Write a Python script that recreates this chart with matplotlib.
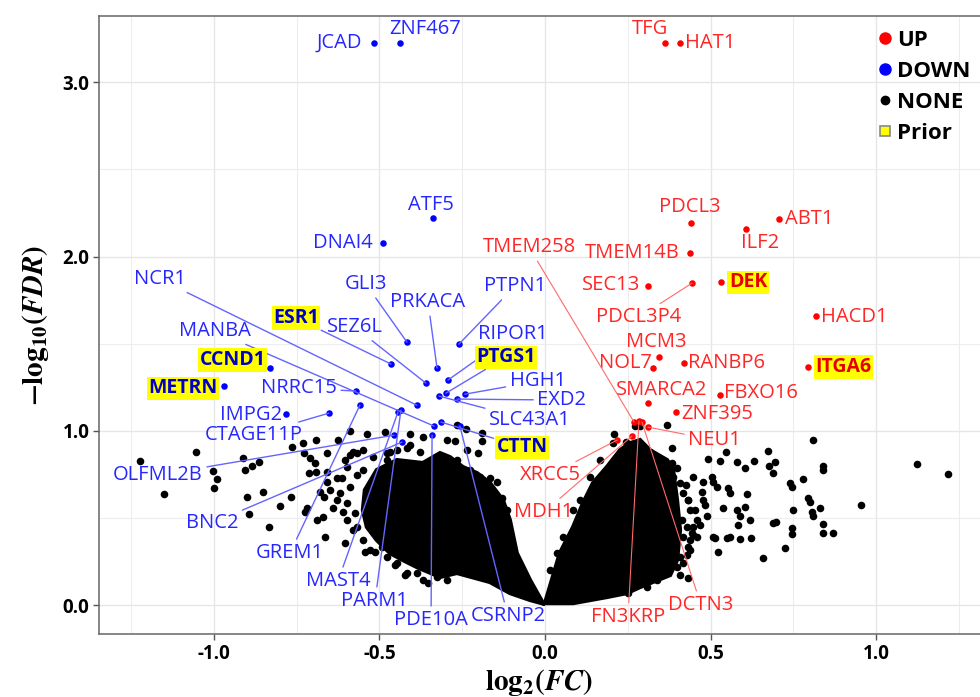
import matplotlib
matplotlib.use('Agg')
import matplotlib.pyplot as plt
from matplotlib import font_manager as fm
from matplotlib.lines import Line2D

# ---- data ----
# outline of the dense NONE cloud (two lobes of the volcano)
left_lobe_x = [-0.006, -0.045, -0.085, -0.106, -0.127, -0.166, -0.205, -0.248, -0.287, -0.317,
               -0.369, -0.447, -0.508, -0.544, -0.550, -0.538, -0.508, -0.468, -0.429, -0.387,
               -0.317, -0.266, -0.166, -0.106, -0.045, 0.0]
left_lobe_y = [0.011, 0.143, 0.298, 0.488, 0.602, 0.700, 0.757, 0.792, 0.849, 0.872,
               0.815, 0.832, 0.775, 0.660, 0.545, 0.448, 0.373, 0.298, 0.258, 0.218,
               0.161, 0.184, 0.132, 0.069, 0.029, 0.006]
right_lobe_x = [0.0, 0.045, 0.085, 0.115, 0.145, 0.187, 0.227, 0.257, 0.287, 0.317,
                0.369, 0.387, 0.399, 0.408, 0.399, 0.378, 0.287, 0.248, 0.187, 0.085]
right_lobe_y = [0.011, 0.298, 0.448, 0.585, 0.700, 0.792, 0.889, 0.929, 0.947, 0.889,
                0.832, 0.775, 0.602, 0.430, 0.258, 0.172, 0.103, 0.069, 0.046, 0.011]

# scattered NONE genes outside / on the rim of the dense cloud
none_x = [-1.224, -1.151, -1.054, -1.003, -0.991, -1.000, -0.912, -0.906, -0.885, -0.864,
          -0.900, -0.852, -0.894, -0.834, -0.801, -0.767, -0.764, -0.731, -0.728, -0.692,
          -0.659, -0.625, -0.589, -0.538, -0.483, -0.408, -0.369, -0.296, -0.272, -0.266,
          -0.239, -0.190, -0.190, -0.236, -0.202, -0.408, -0.468, -0.477, -0.710, -0.695,
          -0.713, -0.692, -0.659, -0.719, -0.725, -0.689, -0.671, -0.665, -0.640, -0.610,
          -0.604, -0.598, -0.580, -0.544, -0.492, -0.668, -0.628, -0.613, -0.604, -0.589,
          -0.598, -0.568, -0.550, -0.514, -0.387, -0.453, -0.423, -0.353, -0.347, -0.514,
          -0.580, -0.550, -0.520, -0.477, -0.568, -0.589, -0.619, -0.598, -0.628, -0.650,
          -0.680, -0.659, -0.574, -0.568, -0.550, -0.529, -0.477, -0.447, -0.417, -0.369,
          -0.326, -0.296, -0.447, -0.417, -0.378, -0.508, -0.529, -0.266, -0.227, -0.196,
          -0.166, -0.145, -0.130, -0.115,
          0.810, 1.124, 1.218, 0.955, 0.840, 0.840, 0.674, 0.695, 0.677, 0.689,
          0.631, 0.604, 0.580, 0.547, 0.529, 0.492, 0.779, 0.740, 0.746, 0.610,
          0.553, 0.559, 0.505, 0.508, 0.520, 0.477, 0.474, 0.447, 0.477, 0.483,
          0.538, 0.580, 0.589, 0.604, 0.619, 0.583, 0.689, 0.698, 0.749, 0.795,
          0.801, 0.831, 0.807, 0.810, 0.840, 0.840, 0.870, 0.746, 0.746, 0.725,
          0.659, 0.622, 0.589, 0.559, 0.550, 0.514, 0.508, 0.523, 0.459, 0.468,
          0.447, 0.438, 0.489, 0.432, 0.408, 0.369, 0.384, 0.208, 0.251, 0.429,
          0.438, 0.417, 0.432, 0.426, 0.453, 0.272, 0.287, 0.245,
          0.317, 0.326, 0.353, 0.369, 0.384, 0.387, 0.399, 0.408, 0.417, 0.432,
          0.438, 0.414, 0.429, 0.417, 0.432, 0.408, 0.399, 0.369, 0.338, 0.308,
          0.447, 0.459, 0.444, 0.205, 0.236, 0.166, 0.136, 0.106, 0.085, 0.054,
          0.036, 0.015]
none_y = [0.826, 0.637, 0.878, 0.769, 0.723, 0.671, 0.843, 0.775, 0.797, 0.820,
          0.620, 0.648, 0.522, 0.448, 0.568, 0.620, 0.906, 0.929, 0.872, 0.947,
          0.872, 0.947, 0.998, 0.981, 0.993, 0.981, 0.964, 0.947, 0.941, 1.033,
          1.010, 0.987, 0.941, 0.889, 0.872, 0.918, 0.878, 0.832, 0.843, 0.815,
          0.757, 0.763, 0.763, 0.557, 0.534, 0.488, 0.505, 0.390, 0.557, 0.534,
          0.356, 0.488, 0.430, 0.304, 0.333, 0.620, 0.729, 0.729, 0.832, 0.861,
          0.792, 0.872, 0.775, 0.660, 0.184, 0.229, 0.172, 0.126, 0.247, 0.304,
          0.878, 0.889, 0.849, 0.872, 0.746, 0.677, 0.643, 0.585, 0.602, 0.660,
          0.648, 0.706, 0.528, 0.448, 0.373, 0.316, 0.275, 0.241, 0.184, 0.143,
          0.161, 0.143, 0.889, 0.901, 0.878, 0.734, 0.620, 0.832, 0.775, 0.734,
          0.729, 0.706, 0.614, 0.545,
          0.947, 0.809, 0.752, 0.574, 0.797, 0.775, 0.884, 0.820, 0.797, 0.757,
          0.826, 0.786, 0.820, 0.878, 0.826, 0.838, 0.723, 0.700, 0.677, 0.637,
          0.671, 0.643, 0.734, 0.706, 0.677, 0.706, 0.648, 0.734, 0.602, 0.574,
          0.557, 0.545, 0.511, 0.562, 0.488, 0.459, 0.470, 0.476, 0.545, 0.614,
          0.591, 0.557, 0.534, 0.511, 0.465, 0.413, 0.413, 0.442, 0.407, 0.327,
          0.270, 0.384, 0.379, 0.390, 0.384, 0.384, 0.390, 0.304, 0.488, 0.459,
          0.402, 0.373, 0.511, 0.155, 0.172, 1.033, 0.901, 0.981, 0.069, 0.287,
          0.316, 0.241, 0.602, 0.688, 0.545, 1.030, 1.030, 0.935,
          0.878, 0.832, 0.786, 0.763, 0.815, 0.734, 0.786, 0.700, 0.643, 0.602,
          0.545, 0.488, 0.448, 0.390, 0.333, 0.275, 0.218, 0.184, 0.143, 0.103,
          0.448, 0.390, 0.413, 0.929, 0.889, 0.832, 0.734, 0.602, 0.545, 0.390,
          0.298, 0.201]

down_genes = ['JCAD', 'ZNF467', 'ATF5', 'DNAI4', 'GLI3', 'PTPN1', 'ESR1', 'PRKACA', 'SEZ6L',
              'RIPOR1', 'PTGS1', 'HGH1', 'EXD2', 'SLC43A1', 'NCR1', 'CTTN', 'MANBA', 'CCND1',
              'METRN', 'NRRC15', 'IMPG2', 'CTAGE11P', 'GREM1', 'MAST4', 'PARM1', 'OLFML2B',
              'BNC2', 'PDE10A', 'CSRNP2']
down_x = [-0.517, -0.438, -0.338, -0.489, -0.417, -0.260, -0.465, -0.326, -0.360,
          -0.293, -0.299, -0.242, -0.266, -0.320, -0.387, -0.314, -0.335, -0.831,
          -0.970, -0.571, -0.782, -0.653, -0.559, -0.444, -0.435, -0.456,
          -0.432, -0.341, -0.257]
down_y = [3.224, 3.224, 2.220, 2.077, 1.509, 1.497, 1.383, 1.360, 1.274,
          1.291, 1.216, 1.210, 1.182, 1.199, 1.147, 1.050, 1.027, 1.360,
          1.256, 1.228, 1.096, 1.101, 1.147, 1.107, 1.119, 0.975,
          0.935, 0.975, 1.027]

up_genes = ['TFG', 'HAT1', 'PDCL3', 'ABT1', 'ILF2', 'TMEM14B', 'SEC13', 'DEK', 'PDCL3P4',
            'HACD1', 'MCM3', 'NOL7', 'RANBP6', 'ITGA6', 'SMARCA2', 'FBXO16', 'ZNF395',
            'NEU1', 'TMEM258', 'FN3KRP', 'DCTN3', 'XRCC5', 'MDH1']
up_x = [0.363, 0.408, 0.441, 0.707, 0.607, 0.438, 0.311, 0.532, 0.444,
        0.819, 0.344, 0.326, 0.420, 0.795, 0.311, 0.529, 0.396,
        0.311, 0.269, 0.284, 0.293, 0.218, 0.263]
up_y = [3.224, 3.224, 2.192, 2.215, 2.157, 2.019, 1.830, 1.853, 1.847,
        1.658, 1.423, 1.360, 1.388, 1.366, 1.159, 1.205, 1.107,
        1.021, 1.050, 1.056, 1.050, 0.947, 0.970]

prior_genes = ['ESR1', 'CCND1', 'METRN', 'PTGS1', 'CTTN', 'DEK', 'ITGA6']

xtick_vals = [-1.0, -0.5, 0.0, 0.5, 1.0]
xtick_labels = ['-1.0', '-0.5', '0.0', '0.5', '1.0']
ytick_vals = [0.0, 1.0, 2.0, 3.0]
ytick_labels = ['0.0', '1.0', '2.0', '3.0']

# ---- label layout (pixel offsets of the label centre, draw connector?) ----
label_pos = {
    'JCAD': (-34, 0, False), 'ZNF467': (25, 14, False), 'ATF5': (-2, 13, False),
    'DNAI4': (-40, 0, False), 'GLI3': (-41, 58, True), 'PTPN1': (56, 58, True),
    'ESR1': (-95, 46, True), 'PRKACA': (-9, 66, True), 'SEZ6L': (-71, 56, True),
    'RIPOR1': (65, 46, True), 'PTGS1': (60, 36, True), 'HGH1': (73, 13, True),
    'EXD2': (105, -1, True), 'SLC43A1': (91, -24, True), 'NCR1': (-257, 126, True),
    'CTTN': (81, -25, True), 'MANBA': (-219, 95, True), 'CCND1': (-37, 8, False),
    'METRN': (-41, -2, False), 'NRRC15': (-57, 3, True), 'IMPG2': (-35, -1, False),
    'CTAGE11P': (-75, -22, True), 'GREM1': (-70, -148, True), 'MAST4': (-60, -169, True),
    'PARM1': (-26, -191, True), 'OLFML2B': (-236, -40, True), 'BNC2': (-190, -81, True),
    'PDE10A': (-1, -185, True), 'CSRNP2': (48, -190, True),
    'TFG': (-15, 14, False), 'HAT1': (30, 0, False), 'PDCL3': (-1, 16, False),
    'ABT1': (30, 0, False), 'ILF2': (14, -14, False), 'TMEM14B': (-58, 0, False),
    'SEC13': (-37, 1, False), 'DEK': (27, 0, False), 'PDCL3P4': (-53, -34, True),
    'HACD1': (38, -1, False), 'MCM3': (-3, 15, False), 'NOL7': (-27, 5, False),
    'RANBP6': (42, 0, False), 'ITGA6': (35, 0, False), 'SMARCA2': (14, 13, False),
    'FBXO16': (41, 2, False), 'ZNF395': (41, -2, False), 'NEU1': (67, -13, True),
    'TMEM258': (-105, 175, True), 'FN3KRP': (-11, -196, True), 'DCTN3': (59, -183, True),
    'XRCC5': (-67, -35, True), 'MDH1': (-88, -76, True),
}


def has_bold(fam):
    try:
        path = fm.findfont(fm.FontProperties(family=fam, weight='bold'),
                           fallback_to_default=False)
    except Exception:
        return False
    return 'bold' in path.lower()


font = 'DejaVu Sans'
for fam in ['Open Sans', 'Noto Sans', 'Lato', 'Roboto', 'Liberation Sans']:
    if has_bold(fam):
        font = fam
        break

plt.rcParams['font.family'] = [font, 'DejaVu Sans']
plt.rcParams['mathtext.fontset'] = 'stix'

fig = plt.figure(figsize=(9.8, 6.97), dpi=100)
ax = fig.add_axes([99 / 980, 1 - 634 / 697, 881 / 980, 618 / 697])

ax.fill(left_lobe_x, left_lobe_y, color='black', lw=3, zorder=2)
ax.fill(right_lobe_x, right_lobe_y, color='black', lw=3, zorder=2)
ax.scatter(none_x, none_y, s=30, color='black', lw=0, zorder=2)
ax.scatter(down_x, down_y, s=22, color='blue', lw=0, zorder=5)
ax.scatter(up_x, up_y, s=22, color='red', lw=0, zorder=5)


def put_labels(genes, xs, ys, txt_col, bold_col, line_col, line_w):
    for g, x, y in zip(genes, xs, ys):
        dx, dy, line = label_pos[g]
        kw = dict(xy=(x, y), xytext=(dx, dy), textcoords='offset pixels',
                  ha='center', va='center', fontsize=14.5, zorder=6)
        if g in prior_genes:
            kw.update(color=bold_col, fontweight='bold', fontsize=14,
                      bbox=dict(boxstyle='square,pad=0.08', fc='#FFFF00', ec='none'))
        else:
            kw.update(color=txt_col)
        if line:
            kw['arrowprops'] = dict(arrowstyle='-', color=line_col, lw=line_w,
                                    shrinkA=1, shrinkB=0)
        ax.annotate(g, **kw)


put_labels(down_genes, down_x, down_y, '#2626FF', '#0000C8', '#6464FF', 1.0)
put_labels(up_genes, up_x, up_y, '#FF2626', '#E60000', '#FF6A6A', 0.8)

ax.set_xlim(-1.347, 1.314)
ax.set_ylim(-0.166, 3.38)
ax.set_xticks(xtick_vals)
ax.set_xticklabels(xtick_labels)
ax.set_yticks(ytick_vals)
ax.set_yticklabels(ytick_labels)
ax.set_xticks([-1.25, -0.75, -0.25, 0.25, 0.75, 1.25], minor=True)
ax.set_yticks([0.5, 1.5, 2.5], minor=True)
ax.grid(which='major', color='#E6E6E6', lw=1.0, zorder=0)
ax.grid(which='minor', color='#EDEDED', lw=0.8, zorder=0)
ax.set_axisbelow(True)
ax.tick_params(which='minor', length=0)
ax.tick_params(which='major', length=4, width=1, color='#555555', labelsize=13.5,
               labelcolor='black', pad=3)
for lab in ax.get_xticklabels() + ax.get_yticklabels():
    lab.set_fontweight('bold')
for side in ['left', 'bottom', 'top']:
    ax.spines[side].set_color('#666666')
    ax.spines[side].set_linewidth(1.1)
ax.spines['right'].set_visible(False)

ax.set_xlabel(r'$\mathbf{log_2}\mathbf{(}\mathbfit{FC}\mathbf{)}$', fontsize=21, labelpad=2)
ax.set_ylabel(r'$\mathbf{-log_{10}}\mathbf{(}\mathbfit{FDR}\mathbf{)}$', fontsize=21, labelpad=8)

handles = [
    Line2D([], [], marker='o', ls='', color='red', markersize=8),
    Line2D([], [], marker='o', ls='', color='blue', markersize=8),
    Line2D([], [], marker='o', ls='', color='black', markersize=6),
    Line2D([], [], marker='s', ls='', markerfacecolor='#FFFF00', markeredgecolor='#888888',
           markersize=7, markeredgewidth=1.2),
]
ax.legend(handles, ['UP', 'DOWN', 'NONE', 'Prior'], loc='upper left',
          bbox_to_anchor=(0.893, 0.957), bbox_transform=fig.transFigure, frameon=False,
          prop=dict(weight='bold', size=16), handletextpad=0.1, labelspacing=0.45,
          handlelength=0.9, borderpad=0, borderaxespad=0)

fig.savefig('out.png', dpi=100)
